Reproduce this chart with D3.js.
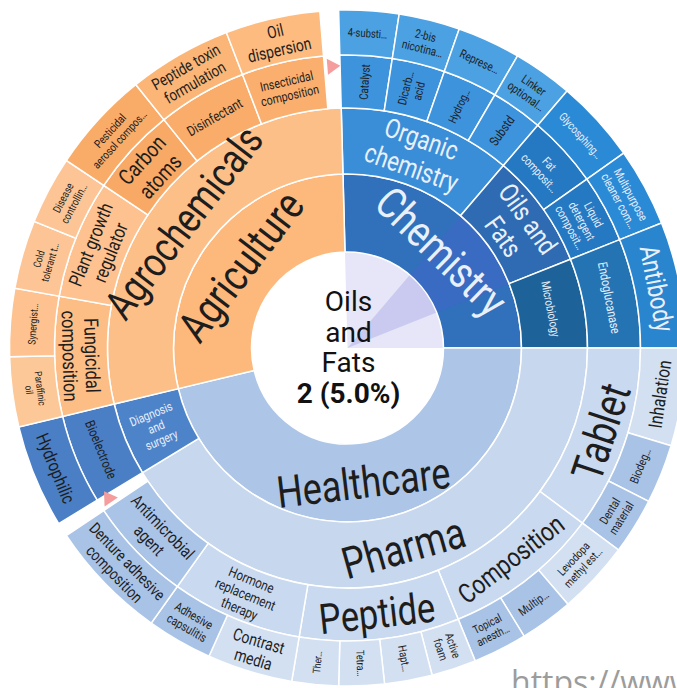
<!DOCTYPE html>
<html>
<head>
<meta charset="utf-8">
<script src="https://cdn.jsdelivr.net/npm/d3@7"></script>
<style>
  body { margin: 0; background: #fff; }
  svg { display: block; }
</style>
</head>
<body>
<script>
// tree, clockwise from the top. sizes = arc of each leaf in degrees,
// a branch with its own size keeps that part empty at the end (remainder)
var names = [
  "Chemistry", "Healthcare", "Agriculture",
  "Organic chemistry", "Oils and Fats", "Microbiology",
  "Catalyst", "Dicarb… acid", "Hydrog…", "Substd",
  "4-substi…", "2-bis nicotina…", "Represe…", "Linker optional…",
  "Fat composit…", "Liquid detergent composit…",
  "Glycosphing…", "Multipurpose cleaner com…",
  "Endoglucanase", "Antibody",
  "Pharma", "Diagnosis and surgery",
  "Tablet", "Composition", "Peptide", "Hormone replacement therapy", "Antimicrobial agent",
  "Inhalation", "Biodeg…", "Dental material",
  "Levodopa methyl est…", "Multip…", "Topical anesth…",
  "Active foam", "Hapt…", "Tetra…", "Ther…",
  "Contrast media", "Adhesive capsulitis",
  "Denture adhesive composition",
  "Bioelectrode", "Hydrophilic",
  "Agrochemicals",
  "Fungicidal composition", "Plant growth regulator", "Carbon atoms", "Disinfectant", "Insecticidal composition",
  "Paraffinic oil", "Synergist…", "Cold tolerant t…", "Disease controllin…",
  "Pesticidal aerosol compos…", "Peptide toxin formulation", "Oil dispersion"
]
var parents = [
  "", "", "",
  "Chemistry", "Chemistry", "Chemistry",
  "Organic chemistry", "Organic chemistry", "Organic chemistry", "Organic chemistry",
  "Catalyst", "Dicarb… acid", "Hydrog…", "Substd",
  "Oils and Fats", "Oils and Fats",
  "Fat composit…", "Liquid detergent composit…",
  "Microbiology", "Endoglucanase",
  "Healthcare", "Healthcare",
  "Pharma", "Pharma", "Pharma", "Pharma", "Pharma",
  "Tablet", "Tablet", "Tablet",
  "Composition", "Composition", "Composition",
  "Peptide", "Peptide", "Peptide", "Peptide",
  "Hormone replacement therapy", "Hormone replacement therapy",
  "Antimicrobial agent",
  "Diagnosis and surgery", "Bioelectrode",
  "Agriculture",
  "Agrochemicals", "Agrochemicals", "Agrochemicals", "Agrochemicals", "Agrochemicals",
  "Fungicidal composition", "Fungicidal composition", "Plant growth regulator", "Plant growth regulator",
  "Carbon atoms", "Disinfectant", "Insecticidal composition"
]
var sizes = [
  0, 0, 0,
  0, 0, 0,
  0, 0, 0, 0,
  10.3, 10.5, 10.9, 10.3,
  0, 0,
  14.3, 13.5,
  0, 21.7,
  2.4, 0,
  0, 0, 0, 0, 0,
  16.8, 10.2, 9.7,
  12.6, 9.2, 9.3,
  7.7, 8.2, 7.8, 8.0,
  14.7, 11.3,
  20.8,
  0, 17.8,
  3.2,
  0, 0, 0, 0, 0,
  12, 11.7, 11.8, 11.7,
  17.5, 17.8, 16.3
]
var selected = "Oils and Fats"
var selectedCount = 2
var selectedShare = 5.0

var width = 677, height = 688
var cx = 347.5, cy = 348
var radius = [0, 96, 174, 240, 293, 338]
var offset = -1.5 * Math.PI / 180
var DARK = "#1d1d1d", LIGHT = "#eaf0fa"

var fill = {
  "Agriculture": "#fdb97c", "Agrochemicals": "#fdbf88",
  "Fungicidal composition": "#fdbe86", "Plant growth regulator": "#fdc28f", "Carbon atoms": "#f9a966",
  "Disinfectant": "#faad6b", "Insecticidal composition": "#fbaf6e",
  "Paraffinic oil": "#fdc898", "Synergist…": "#fdc28f", "Cold tolerant t…": "#fdc596",
  "Disease controllin…": "#fdc596", "Pesticidal aerosol compos…": "#f9ab68",
  "Peptide toxin formulation": "#fbb576", "Oil dispersion": "#fdbb7f",
  "Chemistry": "#3170ba", "Organic chemistry": "#3a8ed8", "Oils and Fats": "#2f6bb3", "Microbiology": "#1d6298",
  "Catalyst": "#3e93dd", "Dicarb… acid": "#3e93dd", "Hydrog…": "#3e93dd", "Substd": "#3e93dd",
  "4-substi…": "#4ba1e2", "2-bis nicotina…": "#4ba1e2", "Represe…": "#4ba1e2", "Linker optional…": "#4ba1e2",
  "Fat composit…": "#2479c2", "Liquid detergent composit…": "#2479c2",
  "Glycosphing…": "#2b8ad6", "Multipurpose cleaner com…": "#2b8ad6",
  "Endoglucanase": "#2473b3", "Antibody": "#2a85cf",
  "Healthcare": "#adc6e8", "Pharma": "#c6d7ee", "Diagnosis and surgery": "#4d83c9",
  "Bioelectrode": "#4a7fc5", "Hydrophilic": "#4a7fc5",
  "Tablet": "#c9d9ef", "Composition": "#c9d9ef", "Peptide": "#c9d9ef",
  "Hormone replacement therapy": "#c9d9ef", "Antimicrobial agent": "#aac4e7",
  "Inhalation": "#d3e0f2", "Biodeg…": "#a9c3e6", "Dental material": "#a9c3e6",
  "Levodopa methyl est…": "#d3e0f2", "Multip…": "#a9c3e6", "Topical anesth…": "#a9c3e6",
  "Active foam": "#d3e0f2", "Hapt…": "#d3e0f2", "Tetra…": "#d3e0f2", "Ther…": "#d3e0f2",
  "Contrast media": "#d3e0f2", "Adhesive capsulitis": "#a9c3e6", "Denture adhesive composition": "#a9c3e6"
}

// font size, lines, t = along the arc / r = along the radius, light text
var labelFmt = {
  "Chemistry": [44, ["Chemistry"], "t", 1],
  "Healthcare": [44, ["Healthcare"], "t", 0],
  "Agriculture": [44, ["Agriculture"], "t", 0],
  "Organic chemistry": [27, ["Organic", "chemistry"], "t", 1],
  "Oils and Fats": [27, ["Oils and", "Fats"], "t", 1],
  "Microbiology": [12, ["Microbiology"], "t", 1],
  "Catalyst": [12, ["Catalyst"], "r", 0],
  "Dicarb… acid": [12, ["Dicarb…", "acid"], "r", 0],
  "Hydrog…": [11.5, ["Hydrog…"], "r", 0],
  "Substd": [13, ["Substd"], "r", 0],
  "4-substi…": [11.5, ["4-substi…"], "t", 0],
  "2-bis nicotina…": [12, ["2-bis", "nicotina…"], "t", 0],
  "Represe…": [12, ["Represe…"], "t", 0],
  "Linker optional…": [12, ["Linker", "optional…"], "t", 0],
  "Fat composit…": [12, ["Fat", "composit…"], "t", 1],
  "Liquid detergent composit…": [12, ["Liquid", "detergent", "composit…"], "t", 1],
  "Glycosphing…": [11.5, ["Glycosphing…"], "t", 1],
  "Multipurpose cleaner com…": [12, ["Multipurpose", "cleaner com…"], "t", 1],
  "Endoglucanase": [13, ["Endoglucanase"], "t", 1],
  "Antibody": [27, ["Antibody"], "t", 1],
  "Pharma": [44, ["Pharma"], "t", 0],
  "Diagnosis and surgery": [12.5, ["Diagnosis", "and", "surgery"], "r", 1],
  "Tablet": [44, ["Tablet"], "t", 0],
  "Composition": [27, ["Composition"], "t", 0],
  "Peptide": [42, ["Peptide"], "t", 0],
  "Hormone replacement therapy": [14, ["Hormone", "replacement", "therapy"], "t", 0],
  "Antimicrobial agent": [17, ["Antimicrobial", "agent"], "t", 0],
  "Inhalation": [19, ["Inhalation"], "t", 0],
  "Biodeg…": [12, ["Biodeg…"], "t", 0],
  "Dental material": [12, ["Dental", "material"], "t", 0],
  "Levodopa methyl est…": [11.5, ["Levodopa", "methyl est…"], "t", 0],
  "Multip…": [12, ["Multip…"], "t", 0],
  "Topical anesth…": [11.5, ["Topical", "anesth…"], "t", 0],
  "Active foam": [11.5, ["Active", "foam"], "r", 0],
  "Hapt…": [11.5, ["Hapt…"], "r", 0],
  "Tetra…": [11, ["Tetra…"], "r", 0],
  "Ther…": [10.5, ["Ther…"], "r", 0],
  "Contrast media": [17, ["Contrast", "media"], "t", 0],
  "Adhesive capsulitis": [12.5, ["Adhesive", "capsulitis"], "t", 0],
  "Denture adhesive composition": [16, ["Denture adhesive", "composition"], "t", 0],
  "Bioelectrode": [13.5, ["Bioelectrode"], "t", 0],
  "Hydrophilic": [18, ["Hydrophilic"], "t", 0],
  "Agrochemicals": [42, ["Agrochemicals"], "t", 0],
  "Fungicidal composition": [20, ["Fungicidal", "composition"], "t", 0],
  "Plant growth regulator": [19, ["Plant growth", "regulator"], "t", 0],
  "Carbon atoms": [22, ["Carbon", "atoms"], "t", 0],
  "Disinfectant": [14, ["Disinfectant"], "t", 0],
  "Insecticidal composition": [13, ["Insecticidal", "composition"], "t", 0],
  "Paraffinic oil": [10, ["Paraffinic", "oil"], "t", 0],
  "Synergist…": [10.5, ["Synergist…"], "t", 0],
  "Cold tolerant t…": [10.5, ["Cold", "tolerant t…"], "t", 0],
  "Disease controllin…": [11, ["Disease", "controllin…"], "t", 0],
  "Pesticidal aerosol compos…": [11.5, ["Pesticidal", "aerosol compos…"], "t", 0],
  "Peptide toxin formulation": [16, ["Peptide toxin", "formulation"], "t", 0],
  "Oil dispersion": [17, ["Oil", "dispersion"], "t", 0]
}

var rows = [{id: "all", parent: null, size: 0}].concat(names.map(function(n, i) {
  return {id: n, parent: parents[i] || "all", size: sizes[i]}
}))
var root = d3.stratify().id(function(d) { return d.id }).parentId(function(d) { return d.parent })(rows)
root.sum(function(d) { return d.size })
d3.partition().size([2 * Math.PI, 1])(root)

var svg = d3.select("body").append("svg")
  .attr("width", width)
  .attr("height", height)
  .attr("font-family", "Roboto, 'Noto Sans', sans-serif")

var g = svg.append("g").attr("transform", "translate(" + cx + "," + cy + ")")

var arc = d3.arc()
  .startAngle(function(d) { return d.x0 + offset })
  .endAngle(function(d) { return d.x1 + offset })
  .innerRadius(function(d) { return radius[d.depth] })
  .outerRadius(function(d) { return radius[d.depth + 1] })

var nodes = root.descendants().filter(function(d) { return d.depth > 0 })

g.selectAll("path.seg")
  .data(nodes)
  .join("path")
  .attr("class", "seg")
  .attr("d", arc)
  .attr("fill", function(d) { return fill[d.id] })
  .attr("stroke", "#fff")
  .attr("stroke-width", 1.5)

// center: root circle with the selected node and its top ancestor marked
var selNode = root.find(function(d) { return d.id === selected })
var branchNode = selNode.ancestors().find(function(d) { return d.depth === 1 })
var wedge = d3.arc().innerRadius(0).outerRadius(radius[1] - 0.75)

g.append("circle").attr("r", radius[1] - 0.75).attr("fill", "#fff")
g.append("path")
  .attr("d", wedge({startAngle: branchNode.x0 + offset, endAngle: branchNode.x1 + offset}))
  .attr("fill", "#e6e6f8")
g.append("path")
  .attr("d", wedge({startAngle: selNode.x0 + offset, endAngle: selNode.x1 + offset}))
  .attr("fill", "#cacaf1")

// tint of the top ancestor ring over the selected span
g.append("path")
  .attr("d", d3.arc().innerRadius(radius[1] + 0.75).outerRadius(radius[2] - 0.75)
    ({startAngle: selNode.x0 + offset, endAngle: selNode.x1 + offset}))
  .attr("fill", "#6450f0")
  .attr("opacity", 0.14)

// markers at the start of each remainder
nodes.filter(function(d) { return d.children && d.data.size > 0 }).forEach(function(d) {
  var a = d.children[d.children.length - 1].x1 + offset
  var r = 282
  var u = [Math.sin(a), -Math.cos(a)], t = [Math.cos(a), Math.sin(a)]
  var p = [r * u[0] + 3 * t[0], r * u[1] + 3 * t[1]]
  var pts = [
    [p[0] + 8 * u[0], p[1] + 8 * u[1]],
    [p[0] - 8 * u[0], p[1] - 8 * u[1]],
    [p[0] + 13 * t[0], p[1] + 13 * t[1]]
  ]
  g.append("path")
    .attr("d", "M" + pts.join("L") + "Z")
    .attr("fill", "#f59c9c")
})

// segment labels
nodes.forEach(function(d) {
  var f = labelFmt[d.id]
  if (!f) return
  var a = (d.x0 + d.x1) / 2 + offset
  var deg = a * 180 / Math.PI
  if (deg < 0) deg += 360
  var rm = (radius[d.depth] + radius[d.depth + 1]) / 2
  var x = rm * Math.sin(a), y = -rm * Math.cos(a)
  var rot
  if (f[2] === "t") {
    rot = (deg > 90 && deg < 270) ? deg - 180 : deg
  } else {
    rot = deg < 180 ? deg - 90 : deg + 90
  }
  var size = f[0], lh = size * 1.12, n = f[1].length
  var text = g.append("text")
    .attr("transform", "translate(" + x + "," + y + ") rotate(" + rot + ") scale(0.82,1)")
    .attr("font-size", size)
    .attr("text-anchor", "middle")
    .attr("fill", f[3] ? LIGHT : DARK)
  f[1].forEach(function(line, i) {
    text.append("tspan")
      .attr("x", 0)
      .attr("y", (i - (n - 1) / 2) * lh + 0.36 * size)
      .text(line)
  })
})

// center text
var centerLines = selected.split(" ")
var ct = svg.append("text")
  .attr("text-anchor", "middle")
  .attr("font-size", 28)
  .attr("fill", "#111")
centerLines.forEach(function(line, i) {
  ct.append("tspan").attr("x", cx + 1).attr("y", 311 + i * 30.5).text(line)
})
ct.append("tspan")
  .attr("x", cx + 1)
  .attr("y", 311 + centerLines.length * 30.5)
  .attr("font-weight", "bold")
  .text(selectedCount + " (" + selectedShare.toFixed(1) + "%)")

// watermark, cut by the bottom edge
svg.append("text")
  .attr("x", 511)
  .attr("y", 694)
  .attr("font-family", "'Open Sans', sans-serif")
  .attr("font-size", 32)
  .attr("fill", "#9c9c9c")
  .text("https://www")
</script>
</body>
</html>
